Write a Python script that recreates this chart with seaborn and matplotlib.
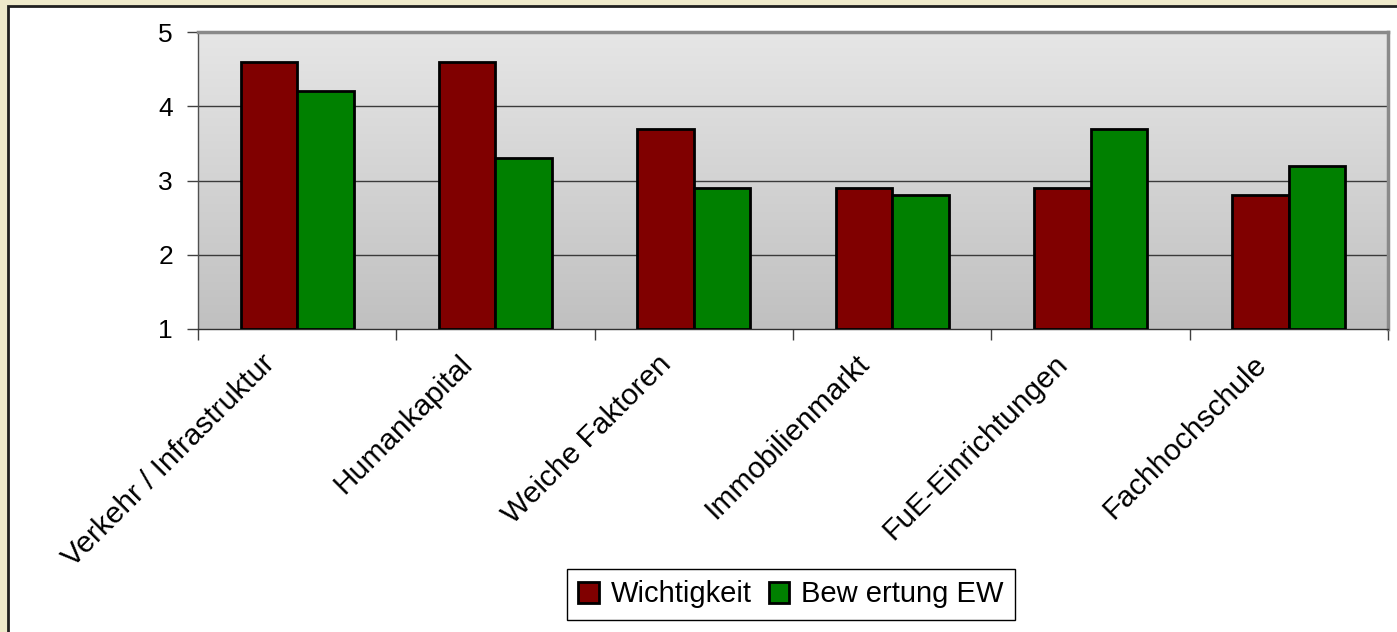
import numpy as np
import pandas as pd
import matplotlib
matplotlib.use("Agg")
import matplotlib.pyplot as plt
import matplotlib.transforms as mtrans
from matplotlib.patches import Rectangle
import seaborn as sns

# data
categories = ["Verkehr / Infrastruktur", "Humankapital", "Weiche Faktoren",
              "Immobilienmarkt", "FuE-Einrichtungen", "Fachhochschule"]
wichtigkeit = [4.6, 4.6, 3.7, 2.9, 2.9, 2.8]
bewertung = [4.2, 3.3, 2.9, 2.8, 3.7, 3.2]
series_names = ["Wichtigkeit", "Bew ertung EW"]
colors = ["#800000", "#008000"]

df = pd.DataFrame({
    "Kategorie": categories * 2,
    "Wert": wichtigkeit + bewertung,
    "Reihe": [series_names[0]] * len(categories) + [series_names[1]] * len(categories),
})

sns.set_style("white")
plt.rcParams["font.family"] = ["Liberation Sans", "DejaVu Sans"]
plt.rcParams["text.color"] = "black"
plt.rcParams["xtick.labelcolor"] = "black"
plt.rcParams["ytick.labelcolor"] = "black"

fig = plt.figure(figsize=(13.97, 6.32), dpi=100)
fig.patch.set_facecolor("#efeacb")
# white inner frame
frame = Rectangle((8 / 1397, -0.01), 1.02, 1 - 6 / 632 + 0.01,
                  transform=fig.transFigure, facecolor="white",
                  edgecolor="#202020", linewidth=2, zorder=-5)
fig.patches.append(frame)

ax = fig.add_axes([198 / 1397, 1 - 329 / 632, 1190 / 1397, 297 / 632])
ax.set_facecolor("none")

# gradient background of the plot area
grad = np.linspace(0, 1, 256).reshape(-1, 1)
ax.imshow(grad, extent=[0, 1, 0, 1], transform=ax.transAxes, aspect="auto",
          cmap=matplotlib.colors.LinearSegmentedColormap.from_list("g", ["#e6e6e6", "#c0c0c0"]),
          zorder=0)

sns.barplot(data=df, x="Kategorie", y="Wert", hue="Reihe", palette=colors,
            width=0.57, gap=0, edgecolor="black", linewidth=2, saturation=1,
            ax=ax, zorder=3)

for p in ax.patches:
    p.set_y(1)
    p.set_height(p.get_height() - 1)

ax.set_ylim(1, 5)
ax.set_xlim(-0.5, len(categories) - 0.5)
ax.set_yticks([1, 2, 3, 4, 5])
for y in [2, 3, 4]:
    ax.axhline(y, color="#3a3a3a", linewidth=1, zorder=1)

ax.set_xlabel("")
ax.set_ylabel("")
ax.tick_params(axis="y", labelsize=19, length=8, width=1, color="#404040",
               direction="out", left=True, pad=10)
ax.set_xticks(range(len(categories)))
ax.set_xticklabels(categories, rotation=45, ha="right", va="center",
                   rotation_mode="anchor", fontsize=21.5)
ax.tick_params(axis="x", length=0, pad=22)
ax.set_xticks(np.arange(-0.5, len(categories)), minor=True)
ax.tick_params(axis="x", which="minor", length=8, width=1, color="#404040",
               direction="out", bottom=True)
shift = mtrans.ScaledTranslation(-27 / 100, 0, fig.dpi_scale_trans)
for lab in ax.get_xticklabels():
    lab.set_transform(lab.get_transform() + shift)

for side in ["top", "right"]:
    ax.spines[side].set_color("#8a8a8a")
    ax.spines[side].set_linewidth(2.5)
ax.spines["left"].set_color("#505050")
ax.spines["left"].set_linewidth(1)
ax.spines["bottom"].set_color("#303030")
ax.spines["bottom"].set_linewidth(1)

ax.legend_.remove()
handles = [Rectangle((0, 0), 1, 1, facecolor=c, edgecolor="black", linewidth=2)
           for c in colors]
leg = fig.legend(handles, series_names, loc="center",
                 bbox_to_anchor=(791 / 1397, 1 - 594.5 / 632), ncol=2,
                 fontsize=21, frameon=True, fancybox=False, framealpha=1,
                 edgecolor="black", handlelength=0.7, handleheight=0.7,
                 handletextpad=0.4, columnspacing=0.6, borderpad=0.4)
leg.get_frame().set_linewidth(1)

fig.savefig("out.png", dpi=100, facecolor=fig.get_facecolor())
